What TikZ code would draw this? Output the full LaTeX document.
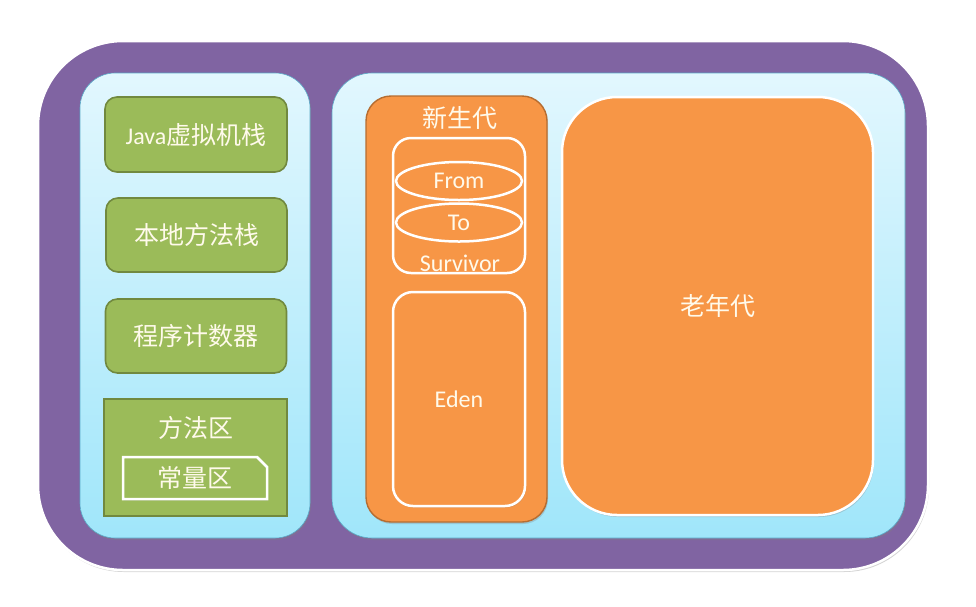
\documentclass[tikz,border=0pt]{standalone}
\usepackage{fontspec}
\setmainfont{Carlito}
\newfontfamily\cjk{Noto Sans CJK SC}
\usetikzlibrary{shapes.geometric,shapes.misc,shadows}
\definecolor{purp}{RGB}{128,100,162}
\definecolor{grn}{RGB}{155,187,89}
\definecolor{grnd}{RGB}{113,137,63}
\definecolor{org}{RGB}{247,150,70}
\definecolor{orgd}{RGB}{182,109,49}
\definecolor{ltop}{RGB}{226,247,254}
\definecolor{lbot}{RGB}{160,230,250}
\definecolor{pnl}{RGB}{90,170,200}
\definecolor{txt}{RGB}{255,250,235}
\tikzset{
  box/.style={rectangle,inner sep=0pt,anchor=center},
  outer/.style={box,fill=purp,draw=white,line width=2.5pt,rounded corners=85pt,
    drop shadow={opacity=0.35,shadow xshift=1pt,shadow yshift=-2pt}},
  panel/.style={box,top color=ltop,bottom color=lbot,draw=pnl,line width=0.6pt,
    drop shadow={opacity=0.35,shadow xshift=1pt,shadow yshift=-2pt}},
  gbox/.style={box,fill=grn,draw=grnd,line width=1.6pt,rounded corners=12pt,
    font=\fontsize{25}{28}\selectfont\cjk,text=txt},
  obox/.style={box,fill=org,draw=orgd,line width=1.4pt},
  wbox/.style={box,draw=white,line width=2.5pt,fill=org},
  lbl/.style={inner sep=0pt,text=txt,font=\fontsize{24}{28}\selectfont},
  clbl/.style={inner sep=0pt,text=txt,font=\fontsize{25}{28}\selectfont\cjk}
}
\begin{document}
\begin{tikzpicture}[x=1pt,y=-1pt]
\useasboundingbox (0,0) rectangle (976,606);
\node[outer,minimum width=890pt,minimum height=529pt] (outer) at (483,305.5) {};
\node[panel,rounded corners=35pt,minimum width=230pt,minimum height=465pt] (lpanel) at (195,305.5) {};
\node[panel,rounded corners=40pt,minimum width=573pt,minimum height=465pt] (rpanel) at (618.5,305.5) {};
% left column
\node[gbox,minimum width=182pt,minimum height=75pt] (jvm) at (196,134.5) {{\fontspec{Carlito}\fontsize{24}{28}\selectfont Java}虚拟机栈};
\node[gbox,minimum width=181pt,minimum height=74pt] (native) at (196.5,235) {本地方法栈};
\node[gbox,minimum width=181pt,minimum height=74pt] (pc) at (196,336) {程序计数器};
\node[box,fill=grn,draw=grnd,line width=1.6pt,minimum width=183pt,minimum height=117pt] (method) at (195.5,457.5) {};
\node[clbl] (methodlbl) at (195.5,428) {方法区};
\node[chamfered rectangle,chamfered rectangle corners=north east,chamfered rectangle xsep=5pt,chamfered rectangle ysep=5pt,
  inner sep=0pt,minimum width=144pt,minimum height=42pt,draw=white,line width=2.5pt,fill=grn,
  drop shadow={opacity=0.3,shadow xshift=1pt,shadow yshift=-1.5pt},clbl] (const) at (195,478) {常量区};
% young generation
\node[obox,rounded corners=25pt,minimum width=181pt,minimum height=426pt,
  drop shadow={opacity=0.3,shadow xshift=1pt,shadow yshift=-2pt}] (young) at (456.5,309) {};
\node[clbl] (younglbl) at (460,118) {新生代};
\node[wbox,rounded corners=18pt,minimum width=132pt,minimum height=135pt] (surv) at (459,205.5) {};
\node[ellipse,draw=white,line width=2.5pt,fill=org,inner sep=0pt,minimum width=126pt,minimum height=38pt,lbl] (from) at (459,181) {From};
\node[ellipse,draw=white,line width=2.5pt,fill=org,inner sep=0pt,minimum width=126pt,minimum height=38pt,lbl] (to) at (459,222.5) {To};
\node[lbl] (survlbl) at (460,263) {Survivor};
\node[wbox,rounded corners=20pt,minimum width=132pt,minimum height=214pt,
  drop shadow={opacity=0.3,shadow xshift=1pt,shadow yshift=-1.5pt},lbl] (eden) at (459,399) {Eden};
% old generation
\node[wbox,rounded corners=55pt,minimum width=311pt,minimum height=418pt,
  drop shadow={opacity=0.3,shadow xshift=1pt,shadow yshift=-2pt},clbl] (old) at (717.5,306) {老年代};
\end{tikzpicture}
\end{document}
